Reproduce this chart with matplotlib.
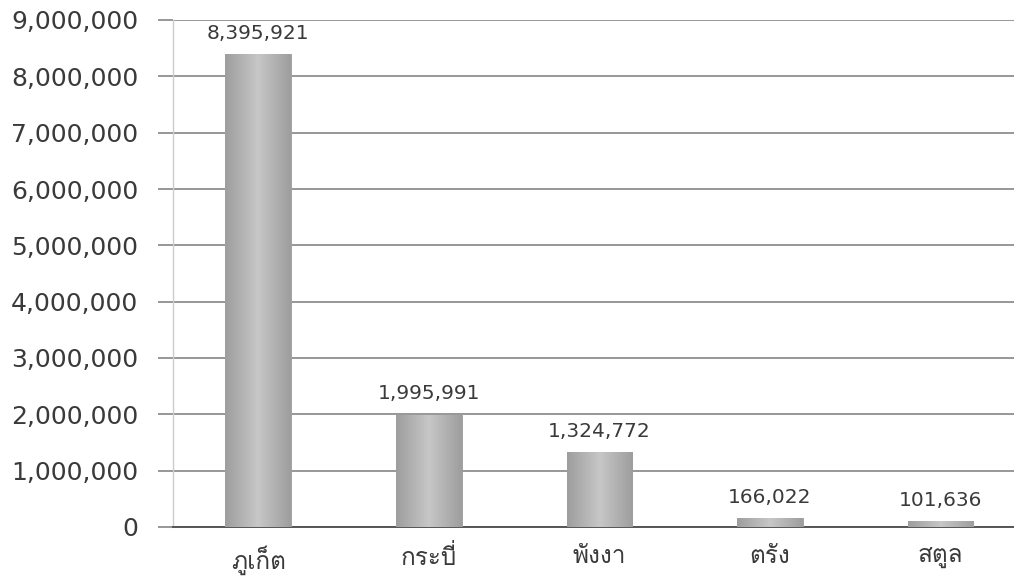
import numpy as np
import matplotlib
matplotlib.use("Agg")
import matplotlib.pyplot as plt
from matplotlib import font_manager
from matplotlib.ft2font import FT2Font
from matplotlib.ticker import FuncFormatter, MultipleLocator

provinces = ["ภูเก็ต", "กระบี่", "พังงา", "ตรัง", "สตูล"]
visitors = [8395921, 1995991, 1324772, 166022, 101636]

# find a font that can draw Thai
thai_family = None
for f in font_manager.fontManager.ttflist:
    try:
        ft = FT2Font(f.fname)
        if all(ft.get_char_index(ord(c)) for c in "ภูเก็ตกระบี่พังงาตรังสตูล"):
            thai_family = f.name
            break
    except Exception:
        pass
families = ["DejaVu Sans"] + ([thai_family] if thai_family else [])

W, H = 1014, 580
fig = plt.figure(figsize=(W / 100, H / 100), dpi=100)
left, right, top, bottom = 173, 1014, 20, 527
ax = fig.add_axes([left / W, 1 - bottom / H, (right - left) / W, (bottom - top) / H])

x = np.arange(len(provinces))
bars = ax.bar(x, visitors, width=0.385, color="#b2b2b2", edgecolor="#9a9a9a", linewidth=0.6, zorder=3)

# subtle gradient on bars (lighter in the middle)
t = np.linspace(0, 1, 64)
shade = 0.62 + 0.16 * (1 - np.abs(t - 0.5) * 2)
rgb = np.dstack([shade, shade, shade])
for b in bars:
    bx, by = b.get_x(), b.get_y()
    bw, bh = b.get_width(), b.get_height()
    im = ax.imshow(rgb, aspect="auto", extent=[bx, bx + bw, by, by + bh],
                   zorder=3.5, interpolation="bicubic")
    im.set_clip_path(b)

ax.set_xlim(-0.5, 4.43)
ax.set_ylim(0, 9000000)
ax.yaxis.set_major_locator(MultipleLocator(1000000))
ax.yaxis.set_major_formatter(FuncFormatter(lambda v, p: f"{int(v):,}"))
ax.grid(axis="y", color="#7a7a7a", linewidth=1.1, zorder=1)
ax.set_axisbelow(True)

for s in ["top", "right"]:
    ax.spines[s].set_visible(False)
ax.spines["left"].set_color("#cccccc")
ax.spines["left"].set_linewidth(1.0)
ax.spines["bottom"].set_color("#555555")
ax.spines["bottom"].set_linewidth(1.4)

ax.tick_params(axis="y", length=11, width=1.1, color="#7a7a7a", pad=14,
               labelsize=18, labelcolor="#3a3a3a")
ax.tick_params(axis="x", length=0, pad=13, labelsize=17.5, labelcolor="#3a3a3a")
for tl in ax.get_yticklabels():
    tl.set_family(families)
ax.set_xticks(x)
ax.set_xticklabels(provinces, family=families[::-1] if thai_family else families)

for xi, v in zip(x, visitors):
    ax.annotate(f"{v:,}", (xi, v), xytext=(0, 8), textcoords="offset points",
                ha="center", va="bottom", fontsize=14.5, color="#3a3a3a", family=families)

fig.savefig("out.png", dpi=100, facecolor="white")
